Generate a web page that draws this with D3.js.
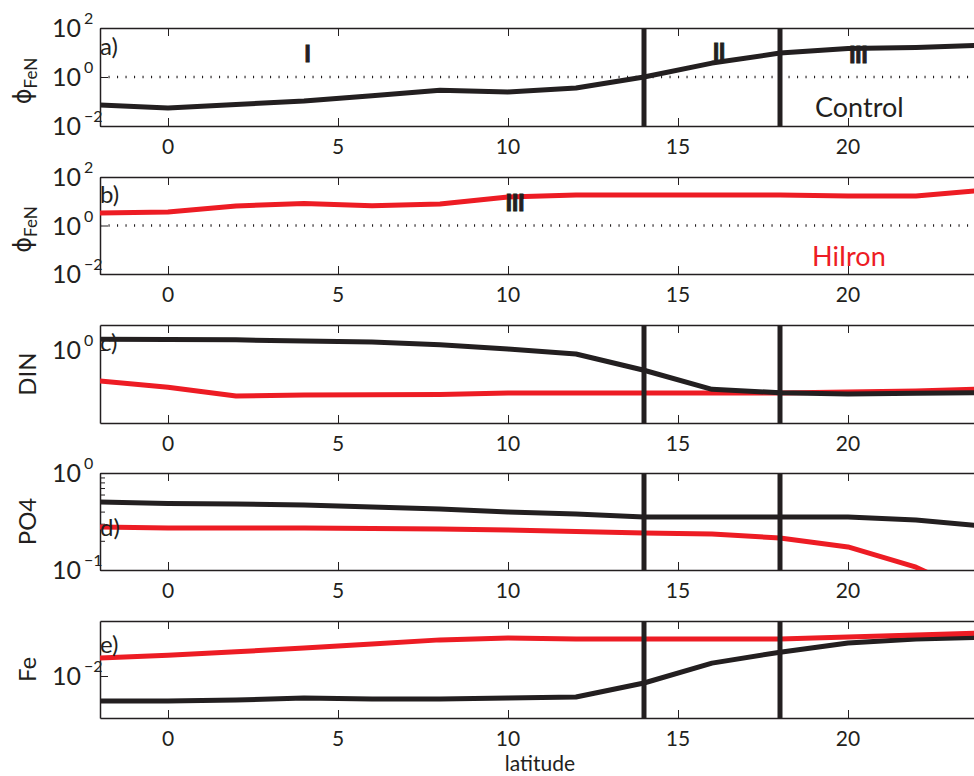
<!DOCTYPE html>
<html>
<head>
<meta charset="utf-8">
<script src="https://cdn.jsdelivr.net/npm/d3@7"></script>
<style>
  body { margin: 0; background: #fff; }
  svg { display: block; font-family: Lato, "Open Sans", sans-serif; }
  .axis path, .axis line { stroke: #231f20; }
  .axis path { stroke-width: 1.5; }
</style>
</head>
<body>
<svg id="chart"></svg>
<script>
// latitude grid of the model output
var lat = [-2, 0, 2, 4, 6, 8, 10, 12, 14, 16, 18, 20, 22, 24];

// phi_FeN
var phiControl = [0.072, 0.054, 0.075, 0.105, 0.17, 0.29, 0.245, 0.355, 1.0, 3.7, 9.5, 14.5, 16, 20];
var phiHiIron  = [3.3, 3.6, 6.4, 8.1, 6.5, 7.7, 15, 18, 18, 18, 18, 16.5, 16.5, 29];
// nutrients
var dinControl = [1.27, 1.26, 1.25, 1.22, 1.19, 1.12, 1.02, 0.915, 0.64, 0.42, 0.39, 0.38, 0.385, 0.39];
var dinHiIron  = [0.505, 0.44, 0.363, 0.37, 0.373, 0.375, 0.387, 0.387, 0.387, 0.387, 0.387, 0.396, 0.405, 0.423];
var po4Control = [0.502, 0.485, 0.479, 0.468, 0.446, 0.425, 0.396, 0.378, 0.352, 0.352, 0.352, 0.352, 0.328, 0.284];
var po4HiIron  = [0.277, 0.271, 0.271, 0.271, 0.268, 0.265, 0.258, 0.249, 0.241, 0.235, 0.214, 0.173, 0.107, 0.05];
var feControl  = [0.00619, 0.00619, 0.00631, 0.00656, 0.00643, 0.00643, 0.00656, 0.00668, 0.00874, 0.0128, 0.0158, 0.0188, 0.0203, 0.0211];
var feHiIron   = [0.01413, 0.0149, 0.0159, 0.0171, 0.0185, 0.0200, 0.0207, 0.0203, 0.0203, 0.0203, 0.0203, 0.0211, 0.0220, 0.0228];

var xTicks = [0, 5, 10, 15, 20];
var regimeBounds = [14, 18];

var black = "#231f20", red = "#ed1c24";
var width = 974, height = 776;
var left = 100, right = 984;

var svg = d3.select("#chart").attr("width", width).attr("height", height);

var x = d3.scaleLinear().domain([-2, 24]).range([left, right]);

var panels = [
  { top: 28,  bottom: 126, domain: [0.01, 100], yTicks: [-2, 0, 2], label: "a)", labelY: 55,
    ylab: "phi", series: [[phiControl, black]], bounds: true, dotted: true,
    notes: [["I", 4.1, 62], ["II", 16.2, 60], ["III", 20.3, 63]],
    run: ["Control", 815, 117, black] },
  { top: 177, bottom: 274, domain: [0.01, 100], yTicks: [-2, 0, 2], label: "b)", labelY: 203,
    ylab: "phi", series: [[phiHiIron, red]], bounds: false, dotted: true,
    notes: [["III", 10.2, 211]],
    run: ["HiIron", 812, 266, red] },
  { top: 325, bottom: 423, domain: [0.2, 1.735], yTicks: [0], label: "c)", labelY: 351,
    ylab: "DIN", series: [[dinHiIron, red], [dinControl, black]], bounds: true },
  { top: 473, bottom: 570, domain: [0.1, 1], yTicks: [-1, 0], minor: true, label: "d)", labelY: 536,
    ylab: "PO4", series: [[po4Control, black], [po4HiIron, red]], bounds: true },
  { top: 621, bottom: 718, domain: [0.004467, 0.02873], yTicks: [-2], label: "e)", labelY: 653,
    ylab: "Fe", series: [[feControl, black], [feHiIron, red]], bounds: true }
];

panels.forEach(function(p, i) {
  var y = d3.scaleLog().domain(p.domain).range([p.bottom, p.top]);
  var g = svg.append("g");

  g.append("clipPath").attr("id", "clip" + i)
    .append("rect").attr("x", left).attr("y", p.top).attr("width", right - left).attr("height", p.bottom - p.top);

  // frame: bottom and top axes with inward ticks
  g.append("g").attr("class", "axis").attr("transform", "translate(0," + p.bottom + ")")
    .call(d3.axisBottom(x).tickValues(xTicks).tickSize(-8).tickSizeOuter(0).tickFormat(""));
  g.append("g").attr("class", "axis").attr("transform", "translate(0," + p.top + ")")
    .call(d3.axisTop(x).tickValues(xTicks).tickSize(-8).tickSizeOuter(0).tickFormat(""));
  g.selectAll("g.tick line").attr("stroke-width", 1);

  // x tick labels
  g.selectAll(".xl").data(xTicks).enter().append("text")
    .attr("x", function(d) { return x(d); })
    .attr("y", p.bottom + 28)
    .attr("text-anchor", "middle")
    .attr("font-size", 21).attr("fill", black)
    .text(function(d) { return d; });

  // left axis
  var yt = p.yTicks.map(function(e) { return Math.pow(10, e); });
  g.append("g").attr("class", "axis").attr("transform", "translate(" + left + ",0)")
    .call(d3.axisLeft(y).tickValues(yt).tickSize(-8).tickSizeOuter(0).tickFormat(""));
  if (p.minor) {
    var mt = d3.range(2, 10).map(function(k) { return k / 10; });
    g.append("g").attr("class", "axis").attr("transform", "translate(" + left + ",0)")
      .call(d3.axisLeft(y).tickValues(mt).tickSize(-5).tickSizeOuter(0).tickFormat(""))
      .select("path").remove();
  }
  p.yTicks.forEach(function(e) {
    var t = g.append("text").attr("x", 52).attr("y", y(Math.pow(10, e)) + 9)
      .attr("fill", black).attr("font-size", 25);
    t.append("tspan").text("10");
    t.append("tspan").attr("dx", 3).attr("dy", -13).attr("font-size", 16)
      .text(e < 0 ? "\u2212" + (-e) : e);
  });

  // y axis title
  var cy = (p.top + p.bottom) / 2;
  if (p.ylab == "phi") {
    var yl = g.append("text").attr("transform", "translate(31," + (cy + 4) + ")rotate(-90)")
      .attr("text-anchor", "middle").attr("fill", black);
    yl.append("tspan").attr("font-size", 24).attr("font-family", "DejaVu Sans").text("\u03d5");
    yl.append("tspan").attr("font-size", 17).attr("dy", 6).text("FeN");
  } else {
    g.append("text").attr("transform", "translate(36," + cy + ")rotate(-90)")
      .attr("text-anchor", "middle").attr("fill", black).attr("font-size", 24)
      .text(p.ylab);
  }

  // reference line at phi = 1
  if (p.dotted) {
    g.append("line").attr("x1", left).attr("x2", right)
      .attr("y1", y(1)).attr("y2", y(1))
      .attr("stroke", black).attr("stroke-width", 2.6).attr("stroke-dasharray", "1.1 7.4");
  }

  var line = d3.line()
    .x(function(d, k) { return x(lat[k]); })
    .y(function(d) { return y(d); });
  p.series.forEach(function(s) {
    g.append("path").datum(s[0])
      .attr("clip-path", "url(#clip" + i + ")")
      .attr("d", line)
      .attr("fill", "none").attr("stroke", s[1])
      .attr("stroke-width", 5).attr("stroke-linejoin", "round");
  });

  // regime boundaries
  if (p.bounds) {
    regimeBounds.forEach(function(b) {
      g.append("line").attr("x1", x(b)).attr("x2", x(b))
        .attr("y1", p.top).attr("y2", p.bottom)
        .attr("stroke", black).attr("stroke-width", 5);
    });
  }

  g.append("text").attr("x", left).attr("y", p.labelY)
    .attr("fill", black).attr("font-size", 24).text(p.label);

  (p.notes || []).forEach(function(n) {
    g.append("text").attr("x", x(n[1])).attr("y", n[2])
      .attr("text-anchor", "middle").attr("font-weight", 900)
      .attr("font-size", 22).attr("letter-spacing", -0.5)
      .attr("fill", black).attr("stroke", black).attr("stroke-width", 0.8)
      .text(n[0]);
  });
  if (p.run) {
    g.append("text").attr("x", p.run[1]).attr("y", p.run[2])
      .attr("fill", p.run[3]).attr("font-size", 27).text(p.run[0]);
  }
});

svg.append("text").attr("x", 540).attr("y", 771)
  .attr("text-anchor", "middle").attr("font-size", 21).attr("fill", black)
  .text("latitude");
</script>
</body>
</html>
